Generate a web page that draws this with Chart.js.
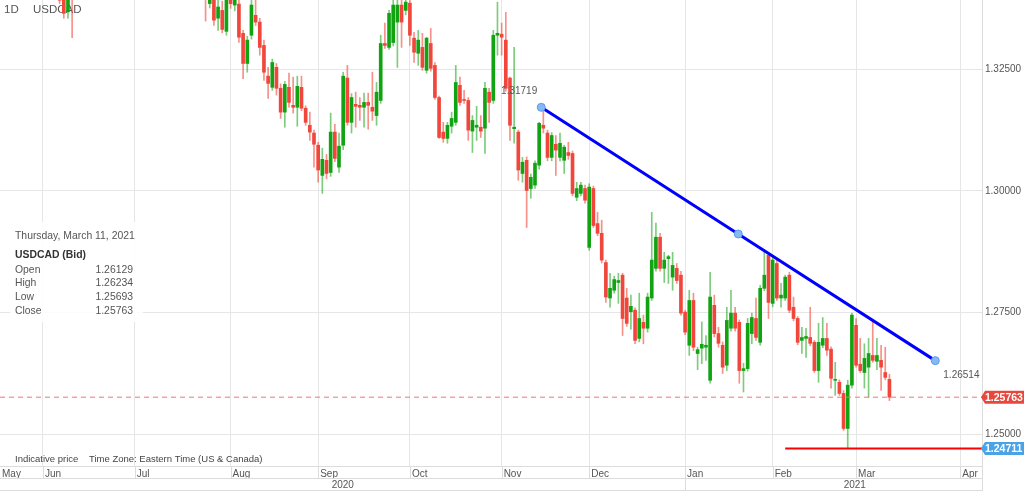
<!DOCTYPE html>
<html>
<head>
<meta charset="utf-8">
<title>USDCAD 1D</title>
<script src="https://cdn.jsdelivr.net/npm/chart.js@4.4.0/dist/chart.umd.min.js"></script>
<style>
    html, body { margin: 0; padding: 0; background: #fff; }
    #wrap { width: 1024px; height: 491px; }
</style>
</head>
<body>
<div id="wrap"><canvas id="usdcad-chart" width="1024" height="491"></canvas></div>
<script>
// x = trading day counted from Mon 1 Jun 2020 (0), candles run from firstDay on
const firstDay = -10;

// [open, high, low, close]
const candles = [
    [1.3990, 1.4020, 1.3930, 1.3940], [1.3940, 1.3960, 1.3850, 1.3870], [1.3870, 1.3970, 1.3850, 1.3950],
    [1.3950, 1.3990, 1.3920, 1.3970], [1.3970, 1.3990, 1.3900, 1.3930], [1.3930, 1.3990, 1.3900, 1.3960],
    [1.3960, 1.3980, 1.3830, 1.3840], [1.3840, 1.3850, 1.3760, 1.3790], [1.3790, 1.3850, 1.3770, 1.3820],
    [1.3820, 1.3840, 1.3760, 1.3770],
    // Jun
    [1.3770, 1.3780, 1.3530, 1.3560], [1.3560, 1.3580, 1.3490, 1.3510], [1.3510, 1.3560, 1.3480, 1.3530],
    [1.3530, 1.3560, 1.3460, 1.3535], [1.3535, 1.3555, 1.3385, 1.3392], [1.3392, 1.3470, 1.3355, 1.3365],
    [1.3368, 1.3445, 1.3355, 1.3420], [1.3420, 1.3470, 1.3315, 1.3405], [1.3405, 1.3620, 1.3400, 1.3600],
    [1.3600, 1.3640, 1.3560, 1.3585], [1.3585, 1.3650, 1.3530, 1.3570], [1.3570, 1.3600, 1.3500, 1.3530],
    [1.3530, 1.3600, 1.3510, 1.3575], [1.3575, 1.3630, 1.3550, 1.3595], [1.3595, 1.3640, 1.3560, 1.3580],
    [1.3580, 1.3610, 1.3520, 1.3570], [1.3570, 1.3590, 1.3520, 1.3560], [1.3560, 1.3670, 1.3540, 1.3655],
    [1.3655, 1.3680, 1.3600, 1.3630], [1.3630, 1.3720, 1.3610, 1.3690], [1.3690, 1.3715, 1.3640, 1.3660],
    [1.3660, 1.3680, 1.3560, 1.3575],
    // Jul
    [1.3575, 1.3645, 1.3560, 1.3570], [1.3570, 1.3590, 1.3520, 1.3550], [1.3550, 1.3580, 1.3520, 1.3560],
    [1.3560, 1.3580, 1.3500, 1.3565], [1.3565, 1.3610, 1.3540, 1.3590], [1.3590, 1.3620, 1.3550, 1.3560],
    [1.3560, 1.3630, 1.3540, 1.3615], [1.3615, 1.3630, 1.3570, 1.3580], [1.3580, 1.3640, 1.3560, 1.3610],
    [1.3610, 1.3620, 1.3550, 1.3600], [1.3600, 1.3610, 1.3510, 1.3555], [1.3555, 1.3590, 1.3530, 1.3580],
    [1.3580, 1.3600, 1.3530, 1.3560], [1.3560, 1.3570, 1.3510, 1.3555], [1.3555, 1.3560, 1.3450, 1.3460],
    [1.3460, 1.3480, 1.3400, 1.3415], [1.3415, 1.3460, 1.3400, 1.3445], [1.3445, 1.3465, 1.3349, 1.3415],
    [1.3385, 1.3440, 1.3376, 1.3420], [1.3420, 1.3440, 1.3340, 1.3351], [1.3355, 1.3400, 1.3330, 1.3378],
    [1.3371, 1.3390, 1.3325, 1.3332], [1.3328, 1.3410, 1.3320, 1.3395],
    // Aug
    [1.3395, 1.3420, 1.3375, 1.3385], [1.3382, 1.3420, 1.3370, 1.3400], [1.3384, 1.3410, 1.3305, 1.3316],
    [1.3324, 1.3330, 1.3231, 1.3262], [1.3262, 1.3318, 1.3244, 1.3310], [1.3320, 1.3392, 1.3312, 1.3382],
    [1.3361, 1.3392, 1.3340, 1.3347], [1.3347, 1.3355, 1.3279, 1.3295], [1.3299, 1.3310, 1.3227, 1.3244],
    [1.3236, 1.3254, 1.3190, 1.3221], [1.3213, 1.3271, 1.3207, 1.3264], [1.3254, 1.3262, 1.3197, 1.3211],
    [1.3211, 1.3220, 1.3149, 1.3162], [1.3162, 1.3225, 1.3131, 1.3219], [1.3213, 1.3242, 1.3172, 1.3182],
    [1.3176, 1.3234, 1.3160, 1.3172], [1.3172, 1.3236, 1.3133, 1.3215], [1.3213, 1.3236, 1.3165, 1.3170],
    [1.3170, 1.3175, 1.3135, 1.3141], [1.3135, 1.3162, 1.3104, 1.3121], [1.3119, 1.3125, 1.3049, 1.3096],
    [1.3094, 1.3100, 1.3018, 1.3043],
    // Sep
    [1.3032, 1.3088, 1.2995, 1.3065], [1.3063, 1.3075, 1.3025, 1.3036], [1.3038, 1.3160, 1.3030, 1.3121],
    [1.3121, 1.3137, 1.3060, 1.3067], [1.3049, 1.3119, 1.3038, 1.3092], [1.3094, 1.3244, 1.3085, 1.3236],
    [1.3232, 1.3258, 1.3135, 1.3141], [1.3141, 1.3200, 1.3119, 1.3192], [1.3178, 1.3203, 1.3131, 1.3174],
    [1.3176, 1.3192, 1.3145, 1.3172], [1.3172, 1.3201, 1.3131, 1.3182], [1.3182, 1.3201, 1.3127, 1.3176],
    [1.3172, 1.3244, 1.3145, 1.3164], [1.3155, 1.3223, 1.3135, 1.3203], [1.3186, 1.3320, 1.3180, 1.3303],
    [1.3303, 1.3345, 1.3293, 1.3299], [1.3295, 1.3371, 1.3291, 1.3365], [1.3305, 1.3395, 1.3298, 1.3382],
    [1.3347, 1.3395, 1.3254, 1.3382], [1.3382, 1.3395, 1.3295, 1.3347], [1.3371, 1.3400, 1.3362, 1.3388],
    [1.3386, 1.3398, 1.3299, 1.3320],
    // Oct
    [1.3314, 1.3326, 1.3264, 1.3285], [1.3283, 1.3330, 1.3258, 1.3310], [1.3295, 1.3324, 1.3248, 1.3254],
    [1.3248, 1.3316, 1.3242, 1.3314], [1.3303, 1.3334, 1.3246, 1.3252], [1.3258, 1.3264, 1.3188, 1.3192],
    [1.3192, 1.3195, 1.3108, 1.3110], [1.3121, 1.3141, 1.3100, 1.3108], [1.3108, 1.3141, 1.3098, 1.3135],
    [1.3133, 1.3162, 1.3119, 1.3149], [1.3141, 1.3258, 1.3135, 1.3223], [1.3217, 1.3234, 1.3176, 1.3182],
    [1.3188, 1.3207, 1.3180, 1.3186], [1.3186, 1.3192, 1.3104, 1.3125], [1.3123, 1.3155, 1.3079, 1.3145],
    [1.3131, 1.3174, 1.3104, 1.3135], [1.3131, 1.3155, 1.3110, 1.3123], [1.3129, 1.3223, 1.3077, 1.3211],
    [1.3203, 1.3211, 1.3141, 1.3182], [1.3186, 1.3330, 1.3180, 1.3320], [1.3320, 1.3388, 1.3279, 1.3324],
    [1.3322, 1.3345, 1.3279, 1.3316],
    // Nov
    [1.3310, 1.3367, 1.3205, 1.3211], [1.3232, 1.3234, 1.3104, 1.3135], [1.3128, 1.3295, 1.3098, 1.3131],
    [1.3121, 1.3125, 1.3022, 1.3043], [1.3036, 1.3069, 1.3018, 1.3059], [1.3063, 1.3070, 1.2925, 1.3001],
    [1.3005, 1.3035, 1.2985, 1.3028], [1.3012, 1.3062, 1.3005, 1.3057], [1.3053, 1.3141, 1.3045, 1.3139],
    [1.3135, 1.31719, 1.3119, 1.3129], [1.3119, 1.3125, 1.3062, 1.3069], [1.3069, 1.3120, 1.3062, 1.3114],
    [1.3096, 1.3114, 1.3032, 1.3084], [1.3069, 1.3119, 1.3062, 1.3098], [1.3063, 1.3094, 1.3036, 1.3090],
    [1.3079, 1.3100, 1.3065, 1.3073], [1.3077, 1.3082, 1.2990, 1.2995], [1.2987, 1.3018, 1.2980, 1.3005],
    [1.2995, 1.3018, 1.2990, 1.3012], [1.3005, 1.3012, 1.2975, 1.2981], [1.2884, 1.3015, 1.2878, 1.3008],
    // Dec
    [1.3005, 1.3010, 1.2925, 1.2929], [1.2933, 1.2956, 1.2908, 1.2913], [1.2913, 1.2940, 1.2852, 1.2858],
    [1.2853, 1.2858, 1.2771, 1.2782], [1.2780, 1.2831, 1.2761, 1.2800], [1.2796, 1.2825, 1.2790, 1.2818],
    [1.2812, 1.2831, 1.2769, 1.2816], [1.2827, 1.2831, 1.2703, 1.2738], [1.2780, 1.2800, 1.2722, 1.2728],
    [1.2752, 1.2786, 1.2716, 1.2763], [1.2755, 1.2760, 1.2686, 1.2693], [1.2697, 1.2790, 1.2690, 1.2738],
    [1.2730, 1.2745, 1.2686, 1.2718], [1.2718, 1.2790, 1.2710, 1.2782], [1.2780, 1.2956, 1.2775, 1.2858],
    [1.2841, 1.2934, 1.2835, 1.2905], [1.2905, 1.2913, 1.2835, 1.2841], [1.2841, 1.2874, 1.2812, 1.2858],
    [1.2861, 1.2868, 1.2810, 1.2865], [1.2823, 1.2874, 1.2796, 1.2847], [1.2841, 1.2851, 1.2810, 1.2816],
    [1.2827, 1.2835, 1.2745, 1.2749], [1.2751, 1.2755, 1.2705, 1.2710],
    // Jan
    [1.2683, 1.2796, 1.2662, 1.2775], [1.2775, 1.2790, 1.2672, 1.2679], [1.2666, 1.2679, 1.2633, 1.2674],
    [1.2677, 1.2731, 1.2645, 1.2685], [1.2679, 1.2703, 1.2652, 1.2683], [1.2611, 1.2833, 1.2605, 1.2782],
    [1.2765, 1.2786, 1.2700, 1.2707], [1.2707, 1.2720, 1.2679, 1.2687], [1.2683, 1.2690, 1.2625, 1.2638],
    [1.2642, 1.2761, 1.2631, 1.2734], [1.2718, 1.2796, 1.2712, 1.2749], [1.2749, 1.2761, 1.2712, 1.2718],
    [1.2730, 1.2735, 1.2605, 1.2631], [1.2631, 1.2646, 1.2587, 1.2635], [1.2635, 1.2738, 1.2630, 1.2728],
    [1.2707, 1.2749, 1.2686, 1.2740], [1.2738, 1.2780, 1.2693, 1.2699], [1.2689, 1.2806, 1.2683, 1.2800],
    [1.2800, 1.2874, 1.2795, 1.2827], [1.2868, 1.2874, 1.2738, 1.2771],
    // Feb
    [1.2769, 1.2864, 1.2762, 1.2858], [1.2851, 1.2862, 1.2775, 1.2780], [1.2780, 1.2810, 1.2761, 1.2786],
    [1.2780, 1.2827, 1.2775, 1.2823], [1.2827, 1.2833, 1.2750, 1.2755], [1.2761, 1.2782, 1.2733, 1.2738],
    [1.2738, 1.2742, 1.2684, 1.2689], [1.2693, 1.2720, 1.2666, 1.2699], [1.2697, 1.2718, 1.2658, 1.2701],
    [1.2699, 1.2761, 1.2682, 1.2687], [1.2689, 1.2693, 1.2627, 1.2631], [1.2631, 1.2728, 1.2607, 1.2689],
    [1.2683, 1.2740, 1.2678, 1.2697], [1.2697, 1.2728, 1.2662, 1.2673], [1.2675, 1.2680, 1.2595, 1.2615],
    [1.2611, 1.2648, 1.2580, 1.2613], [1.2607, 1.2612, 1.2580, 1.2584], [1.2584, 1.2590, 1.2508, 1.2512],
    [1.2512, 1.2611, 1.24711, 1.2601], [1.2601, 1.2749, 1.2595, 1.2745],
    // Mar
    [1.2724, 1.2738, 1.2638, 1.2642], [1.2644, 1.2697, 1.2627, 1.2631], [1.2627, 1.2686, 1.2595, 1.2656],
    [1.2638, 1.2697, 1.2576, 1.2666], [1.2662, 1.2731, 1.2648, 1.2652], [1.2650, 1.2697, 1.2633, 1.2662],
    [1.2652, 1.2683, 1.2590, 1.2638], [1.2627, 1.2679, 1.2612, 1.2617], [1.26129, 1.26234, 1.25693, 1.25763]
];

const lastDate = 'Thursday, March 11, 2021';
const monthNames = ['May', 'Jun', 'Jul', 'Aug', 'Sep', 'Oct', 'Nov', 'Dec', 'Jan', 'Feb', 'Mar', 'Apr'];
const monthStarts = [-21, 0, 22, 45, 66, 88, 110, 131, 154, 175, 195, 220];
const yearNames = ['2020', '2021'];
const yearStart2021 = 154;
const yTicks = [1.25, 1.275, 1.30, 1.325];

// drawn lines
const trendLine = [[119.5, 1.31719], [214, 1.26514]];
const supportLevel = 1.24711;
const supportFrom = 178;

const X_MIN = -10.3, X_MAX = 225.2;
const Y_MIN = 1.24349, Y_MAX = 1.33924;

const FONT = '"Liberation Sans", Arial, sans-serif';
const GRID = '#e6e6e6';
const TEXT = '#555';
const UP = '#12a312', DOWN = '#f0463b';
const UP_WICK = 'rgba(18,163,18,0.55)', DOWN_WICK = 'rgba(240,70,59,0.6)';

const last = candles[candles.length - 1];
const lastClose = last[3];

let wicks = [], bodies = [], bodyColors = [], wickColors = [];
candles.forEach((c, i) => {
    const up = c[3] >= c[0];
    wicks.push({ x: firstDay + i, y: [c[2], c[1]] });
    bodies.push({ x: firstDay + i, y: [c[0], c[3]] });
    bodyColors.push(up ? UP : DOWN);
    wickColors.push(up ? UP_WICK : DOWN_WICK);
});

const trendMid = [(trendLine[0][0] + trendLine[1][0]) / 2, (trendLine[0][1] + trendLine[1][1]) / 2];

function fmt(v) {
    return v.toFixed(5);
}

// header text goes under the candles
const header = {
    id: 'header',
    beforeDatasetsDraw(chart) {
        const ctx = chart.ctx;
        ctx.save();
        ctx.fillStyle = TEXT;
        ctx.font = '11.5px ' + FONT;
        ctx.textBaseline = 'middle';
        ctx.textAlign = 'left';
        ctx.fillText('1D', 4, 10);
        ctx.fillText('USDCAD', 33, 10);
        ctx.restore();
    }
};

// everything that is not a data series: frames, year row, info box, price tags
const extras = {
    id: 'extras',
    afterDraw(chart) {
        const { ctx, chartArea: a, scales: { x, y } } = chart;
        const W = chart.width, H = chart.height;
        ctx.save();

        // frame of the time axis
        ctx.strokeStyle = '#dcdcdc';
        ctx.lineWidth = 1;
        ctx.beginPath();
        ctx.moveTo(0, a.bottom + 0.5); ctx.lineTo(a.right, a.bottom + 0.5);
        ctx.moveTo(0, a.bottom + 12.5); ctx.lineTo(a.right, a.bottom + 12.5);
        ctx.moveTo(0, H - 0.5); ctx.lineTo(a.right, H - 0.5);
        ctx.moveTo(a.right + 0.5, 0); ctx.lineTo(a.right + 0.5, H);
        monthStarts.forEach(m => {
            if (m <= X_MIN) return;
            const px = Math.round(x.getPixelForValue(m)) + 0.5;
            ctx.moveTo(px, a.bottom); ctx.lineTo(px, a.bottom + 12);
        });
        const yx = Math.round(x.getPixelForValue(yearStart2021)) + 0.5;
        ctx.moveTo(yx, a.bottom + 12); ctx.lineTo(yx, H);
        ctx.stroke();

        ctx.fillStyle = TEXT;
        ctx.font = '10px ' + FONT;
        ctx.textBaseline = 'middle';
        ctx.textAlign = 'center';
        ctx.fillText(yearNames[0], (a.left + yx) / 2, a.bottom + 19);
        ctx.fillText(yearNames[1], (yx + W) / 2, a.bottom + 19);

        // footer note
        ctx.textAlign = 'left';
        ctx.font = '9.5px ' + FONT;
        ctx.fillStyle = '#444';
        ctx.fillText('Indicative price', 15, a.bottom - 7);
        ctx.fillText('Time Zone: Eastern Time (US & Canada)', 89, a.bottom - 7);

        // info box for the last candle
        ctx.fillStyle = 'rgba(255,255,255,0.88)';
        ctx.fillRect(10, 222, 133, 100);
        ctx.font = '10.4px ' + FONT;
        ctx.fillStyle = TEXT;
        ctx.fillText(lastDate, 15, 236);
        ctx.font = 'bold 10.4px ' + FONT;
        ctx.fillStyle = '#333';
        ctx.fillText('USDCAD (Bid)', 15, 255);
        ctx.font = '10.4px ' + FONT;
        ctx.fillStyle = TEXT;
        const rows = [['Open', last[0]], ['High', last[1]], ['Low', last[2]], ['Close', last[3]]];
        rows.forEach((r, k) => {
            const ry = 270 + k * 13.6;
            ctx.textAlign = 'left';
            ctx.fillText(r[0], 15, ry);
            ctx.textAlign = 'right';
            ctx.fillText(fmt(r[1]), 133, ry);
        });

        // trend line values
        const p0x = x.getPixelForValue(trendLine[0][0]), p0y = y.getPixelForValue(trendLine[0][1]);
        const p1x = x.getPixelForValue(trendLine[1][0]), p1y = y.getPixelForValue(trendLine[1][1]);
        ctx.font = '10px ' + FONT;
        ctx.fillStyle = TEXT;
        ctx.textAlign = 'right';
        ctx.fillText(fmt(trendLine[0][1]), p0x - 4, p0y - 16);
        ctx.textAlign = 'left';
        ctx.fillText(fmt(trendLine[1][1]), p1x + 8, p1y + 15);

        // price tags on the axis
        function tag(value, color) {
            const ty = y.getPixelForValue(value);
            ctx.fillStyle = color;
            ctx.beginPath();
            ctx.moveTo(a.right - 1, ty);
            ctx.lineTo(a.right + 3, ty - 6.5);
            ctx.lineTo(W, ty - 6.5);
            ctx.lineTo(W, ty + 6.5);
            ctx.lineTo(a.right + 3, ty + 6.5);
            ctx.closePath();
            ctx.fill();
            ctx.fillStyle = '#fff';
            ctx.font = 'bold 10.5px ' + FONT;
            ctx.textAlign = 'left';
            ctx.fillText(fmt(value), a.right + 3, ty + 0.5);
        }
        tag(lastClose, '#e8473b');
        tag(supportLevel, '#4aa3e6');

        ctx.restore();
    }
};

const ctx = document.getElementById('usdcad-chart').getContext('2d');
const chart = new Chart(ctx, {
    type: 'bar',
    data: {
        datasets: [
            {
                type: 'line',
                data: [{ x: trendLine[0][0], y: trendLine[0][1] }, { x: trendMid[0], y: trendMid[1] }, { x: trendLine[1][0], y: trendLine[1][1] }],
                borderColor: '#0000ff',
                borderWidth: 3,
                pointRadius: 4,
                pointBackgroundColor: '#86b8f5',
                pointBorderColor: '#5b9bea',
                pointBorderWidth: 1,
                tension: 0,
                order: 0
            },
            {
                type: 'line',
                data: [{ x: supportFrom, y: supportLevel }, { x: X_MAX, y: supportLevel }],
                borderColor: '#ff0000',
                borderWidth: 2,
                pointRadius: 0,
                order: 0
            },
            {
                type: 'line',
                data: [{ x: X_MIN, y: lastClose }, { x: X_MAX, y: lastClose }],
                borderColor: '#f2756b',
                borderWidth: 1,
                borderDash: [5, 4],
                pointRadius: 0,
                order: 1
            },
            {
                data: bodies,
                backgroundColor: bodyColors,
                barThickness: 3,
                minBarLength: 1,
                grouped: false,
                borderWidth: 0,
                order: 2
            },
            {
                data: wicks,
                backgroundColor: wickColors,
                barThickness: 1,
                grouped: false,
                borderWidth: 0,
                order: 3
            }
        ]
    },
    options: {
        responsive: false,
        animation: false,
        devicePixelRatio: 1,
        layout: { padding: 0, autoPadding: false },
        plugins: {
            legend: { display: false },
            tooltip: { enabled: false }
        },
        scales: {
            x: {
                type: 'linear',
                position: 'bottom',
                min: X_MIN,
                max: X_MAX,
                offset: false,
                grid: {
                    color: (c) => (c.tick && c.tick.value <= X_MIN) ? 'rgba(0,0,0,0)' : GRID,
                    drawTicks: false,
                    offset: false
                },
                border: { display: false },
                afterBuildTicks: (s) => { s.ticks = monthStarts.map(v => ({ value: Math.max(v, X_MIN) })); },
                afterFit: (s) => { s.height = 25; s.paddingLeft = 0; s.paddingRight = 0; },
                ticks: {
                    autoSkip: false,
                    maxRotation: 0,
                    align: 'start',
                    padding: 2,
                    labelOffset: 2,
                    color: TEXT,
                    font: { size: 10, family: FONT },
                    callback: (v, i) => monthNames[i]
                }
            },
            y: {
                type: 'linear',
                position: 'right',
                min: Y_MIN,
                max: Y_MAX,
                grid: { color: GRID, drawTicks: false },
                border: { display: true, color: '#dcdcdc' },
                afterBuildTicks: (s) => { s.ticks = yTicks.map(v => ({ value: v })); },
                afterFit: (s) => { s.width = 42; s.paddingTop = 0; s.paddingBottom = 0; },
                ticks: {
                    padding: 3,
                    color: TEXT,
                    font: { size: 10, family: FONT },
                    callback: (v) => fmt(v)
                }
            }
        }
    },
    plugins: [header, extras]
});
</script>
</body>
</html>
